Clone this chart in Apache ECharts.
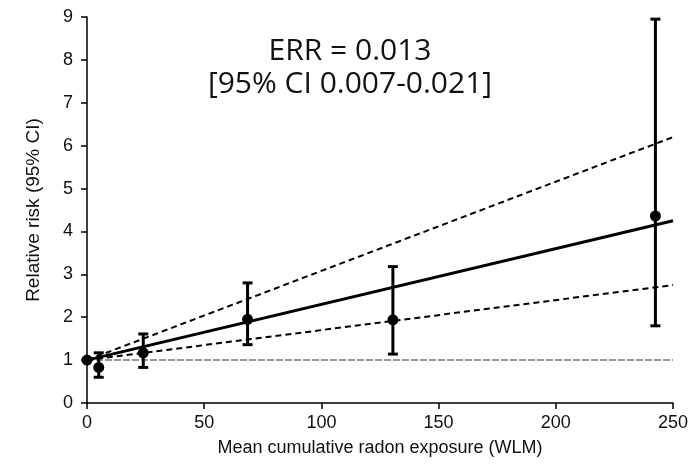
<!DOCTYPE html>
<html>
<head>
<meta charset="utf-8">
<script src="https://cdn.jsdelivr.net/npm/echarts@6/dist/echarts.min.js"></script>
<style>
  html, body { margin: 0; padding: 0; background: #fff; }
  #chart { width: 700px; height: 466px; }
</style>
</head>
<body>
<div id="chart"></div>
<script>
// observed points: exposure (WLM), relative risk, 95% CI
const exposure = [0, 5, 24, 68.5, 130.5, 242.5];
const relRisk = [1, 0.83, 1.17, 1.95, 1.94, 4.36];
const ciLow = [null, 0.6, 0.83, 1.36, 1.14, 1.8];
const ciHigh = [null, 1.17, 1.61, 2.8, 3.18, 8.95];

// fitted linear ERR model and its CI bounds
const fitX = [0, 250];
const fitMid = [1, 4.25];
const fitLow = [1, 2.75];
const fitHigh = [1, 6.2];
const refY = [1, 1];

const xTicks = [0, 50, 100, 150, 200, 250];
const yTicks = [0, 1, 2, 3, 4, 5, 6, 7, 8, 9];
const noteLines = ['ERR = 0.013', '[95% CI 0.007-0.021]'];

const font = 'Liberation Sans, Arial, sans-serif';
const chart = echarts.init(document.getElementById('chart'));

const pairs = (xs, ys) => xs.map((x, i) => [x, ys[i]]);
const errData = exposure
  .map((x, i) => [x, ciLow[i], ciHigh[i]])
  .filter(d => d[1] != null);

const option = {
  animation: false,
  backgroundColor: '#fff',
  grid: { left: 87, right: 27, top: 17, bottom: 63 },
  xAxis: {
    type: 'value',
    min: 0, max: 250, interval: 50,
    name: 'Mean cumulative radon exposure (WLM)',
    nameLocation: 'middle',
    nameGap: 36,
    nameTextStyle: { fontFamily: font, fontSize: 18, color: '#111' },
    axisLine: { onZero: false, lineStyle: { color: '#000', width: 1.5 } },
    axisTick: { show: true, length: 6, lineStyle: { color: '#000', width: 1.5 } },
    axisLabel: {
      margin: 11, fontFamily: font, fontSize: 18, color: '#111',
      formatter: v => (xTicks.includes(v) ? String(v) : '')
    },
    splitLine: { show: false }
  },
  yAxis: {
    type: 'value',
    min: 0, max: 9, interval: 1,
    name: 'Relative risk (95% CI)',
    nameLocation: 'middle',
    nameGap: 44,
    nameTextStyle: { fontFamily: font, fontSize: 19, color: '#111' },
    axisLine: { show: true, lineStyle: { color: '#000', width: 1.5 } },
    axisTick: { show: true, length: 6, lineStyle: { color: '#000', width: 1.5 } },
    axisLabel: {
      margin: 14, fontFamily: font, fontSize: 18, color: '#111',
      formatter: v => (yTicks.includes(v) ? String(v) : '')
    },
    splitLine: { show: false }
  },
  graphic: noteLines.map((t, i) => ({
    type: 'text',
    left: 'center',
    top: 36 + i * 33,
    style: {
      text: t,
      fontFamily: 'Open Sans, DejaVu Sans, sans-serif',
      fontSize: 30,
      fill: '#111'
    }
  })),
  series: [
    {
      type: 'line', data: pairs(fitX, refY), symbol: 'none', z: 1,
      lineStyle: { color: '#999', width: 2, type: [7, 2] }
    },
    {
      type: 'line', data: pairs(fitX, fitHigh), symbol: 'none', z: 2,
      lineStyle: { color: '#000', width: 2, type: [6, 4] }
    },
    {
      type: 'line', data: pairs(fitX, fitLow), symbol: 'none', z: 2,
      lineStyle: { color: '#000', width: 2, type: [6, 4] }
    },
    {
      type: 'line', data: pairs(fitX, fitMid), symbol: 'none', z: 3,
      lineStyle: { color: '#000', width: 3 }
    },
    {
      type: 'custom',
      z: 4,
      data: errData,
      renderItem: (params, api) => {
        const x = api.value(0);
        const lo = api.coord([x, api.value(1)]);
        const hi = api.coord([x, api.value(2)]);
        const cap = 5;
        const style = { stroke: '#000', lineWidth: 3 };
        return {
          type: 'group',
          children: [
            { type: 'line', shape: { x1: lo[0], y1: lo[1], x2: hi[0], y2: hi[1] }, style },
            { type: 'line', shape: { x1: lo[0] - cap, y1: lo[1], x2: lo[0] + cap, y2: lo[1] }, style },
            { type: 'line', shape: { x1: hi[0] - cap, y1: hi[1], x2: hi[0] + cap, y2: hi[1] }, style }
          ]
        };
      }
    },
    {
      type: 'scatter', data: pairs(exposure, relRisk), z: 5,
      symbol: 'circle', symbolSize: 11,
      itemStyle: { color: '#000', opacity: 1 }
    }
  ]
};

chart.setOption(option);
</script>
</body>
</html>
